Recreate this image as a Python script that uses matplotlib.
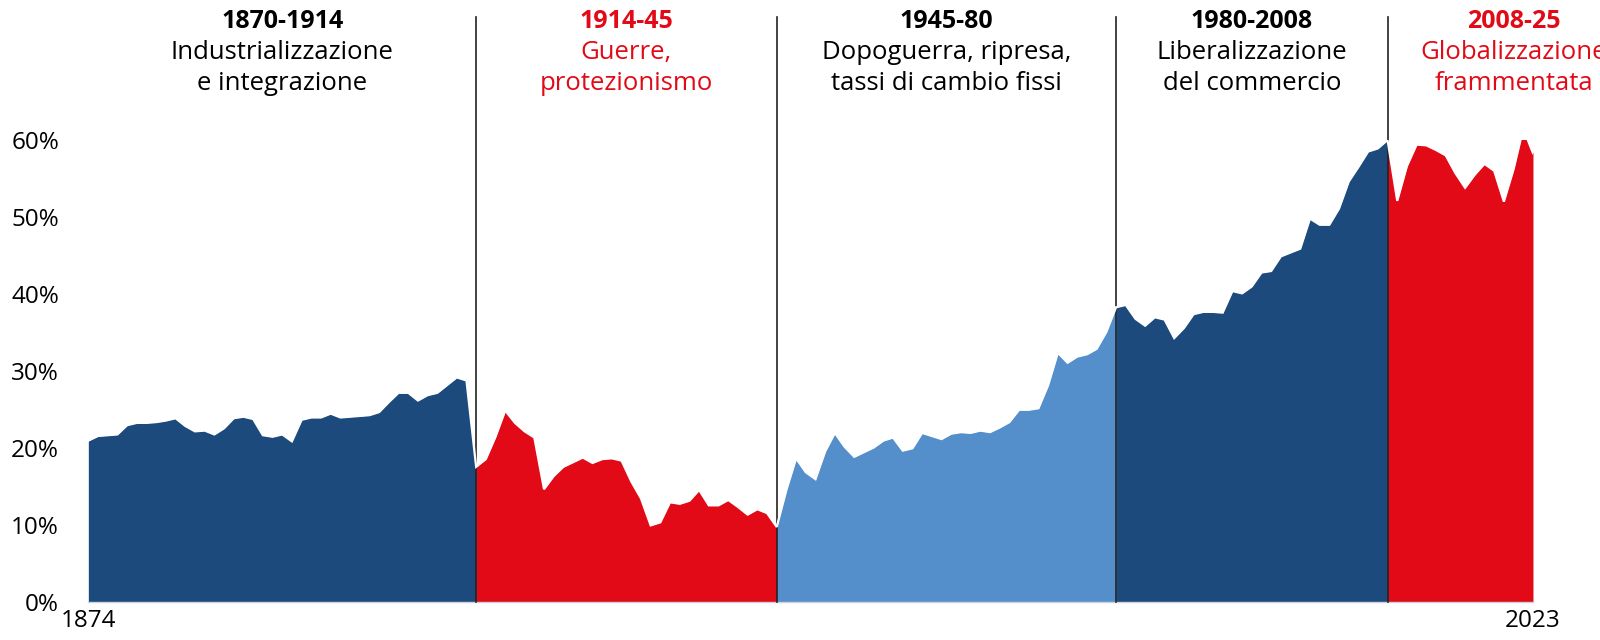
import matplotlib.pyplot as plt
import numpy as np
from matplotlib.transforms import blended_transform_factory

# trade share (% of world GDP), one value per year
share_1874_1913 = [21.0, 21.6, 21.7, 21.8, 23.0, 23.3, 23.3, 23.4, 23.6, 23.9,
                   22.9, 22.2, 22.3, 21.8, 22.6, 23.9, 24.1, 23.8, 21.7, 21.5,
                   21.8, 20.9, 23.7, 24.0, 24.0, 24.5, 24.0, 24.1, 24.2, 24.3,
                   24.7, 26.0, 27.2, 27.2, 26.2, 26.9, 27.2, 28.2, 29.2, 28.8]
share_1914_1944 = [17.6, 18.6, 21.5, 24.9, 23.3, 22.2, 21.4, 14.7, 16.4, 17.6,
                   18.2, 18.8, 18.1, 18.6, 18.7, 18.4, 15.7, 13.5, 10.0, 10.4,
                   13.0, 12.8, 13.2, 14.6, 12.6, 12.6, 13.3, 12.4, 11.4, 12.1,
                   11.6]
share_1945_1979 = [9.8, 14.6, 18.7, 16.9, 16.0, 19.6, 22.0, 20.2, 18.9, 19.5,
                   20.1, 21.0, 21.4, 19.7, 20.0, 22.0, 21.6, 21.2, 21.9, 22.1,
                   22.0, 22.3, 22.1, 22.7, 23.4, 25.0, 25.0, 25.2, 28.2, 32.4,
                   31.1, 31.9, 32.2, 32.9, 35.1]
share_1980_2007 = [38.3, 38.6, 36.8, 35.9, 37.0, 36.7, 34.3, 35.6, 37.4, 37.7,
                   37.7, 37.6, 40.4, 40.1, 41.0, 42.8, 43.0, 44.9, 45.4, 45.9,
                   49.8, 49.0, 49.0, 51.1, 54.6, 56.5, 58.5, 58.9]
share_2008_2023 = [60.0, 52.1, 56.6, 59.4, 59.3, 58.7, 58.0, 55.7, 53.8, 55.5,
                   56.9, 56.0, 52.0, 56.2, 61.5, 58.3]

first_year = 1874
last_year = 2023
breaks = [1874, 1914, 1945, 1980, 2008, 2023]
period_years = ['1870-1914', '1914-45', '1945-80', '1980-2008', '2008-25']
period_text = [['Industrializzazione', 'e integrazione'],
               ['Guerre,', 'protezionismo'],
               ['Dopoguerra, ripresa,', 'tassi di cambio fissi'],
               ['Liberalizzazione', 'del commercio'],
               ['Globalizzazione', 'frammentata']]
label_x = [1894, 1929.5, 1962.5, 1994, 2021]

DARK = '#1c4a7c'
RED = '#e10a16'
LIGHT = '#548fcb'
fills = [DARK, RED, LIGHT, DARK, RED]
text_colors = ['black', RED, 'black', 'black', RED]

plt.rcParams['font.family'] = ['Open Sans', 'DejaVu Sans']

share = np.array(share_1874_1913 + share_1914_1944 + share_1945_1979
                 + share_1980_2007 + share_2008_2023)
years = np.arange(first_year, last_year + 1)

fig = plt.figure(figsize=(16, 6.4), dpi=100)
ax = fig.add_axes([0.0552, 0.0586, 0.9029, 0.7227])

for i in range(5):
    m = (years >= breaks[i]) & (years <= breaks[i + 1])
    ax.fill_between(years[m], 0, share[m], color=fills[i], lw=0, zorder=2)

# period separators
for b in breaks[1:-1]:
    ax.plot([b, b], [0, 76], color='#222222', lw=1.2, clip_on=False, zorder=3)

# thin white outline on top of the area
ax.plot(years, share, color='white', lw=1.6, zorder=4, solid_joinstyle='miter')

ax.set_xlim(first_year, last_year)
ax.set_ylim(0, 60)
ax.set_yticks(range(0, 61, 10))
ax.set_yticklabels([f'{v}%' for v in range(0, 61, 10)], fontsize=17.5)
ax.set_xticks([first_year, last_year])
ax.set_xticklabels([str(first_year), str(last_year)], fontsize=17.5)
ax.tick_params(axis='y', length=0, pad=21)
ax.tick_params(axis='x', length=0, pad=5)
for s in ['top', 'right', 'left']:
    ax.spines[s].set_visible(False)
ax.spines['bottom'].set_color('#c9d2de')
ax.spines['bottom'].set_linewidth(1)
ax.patch.set_visible(False)

tr = blended_transform_factory(ax.transData, fig.transFigure)
for i in range(5):
    ax.text(label_x[i], 0.967, period_years[i], transform=tr, ha='center',
            va='center', fontsize=18, fontweight='bold', color=text_colors[i])
    ax.text(label_x[i], 0.918, period_text[i][0], transform=tr, ha='center',
            va='center', fontsize=18.5, color=text_colors[i])
    ax.text(label_x[i], 0.869, period_text[i][1], transform=tr, ha='center',
            va='center', fontsize=18.5, color=text_colors[i])

fig.savefig('out.png', dpi=100)
